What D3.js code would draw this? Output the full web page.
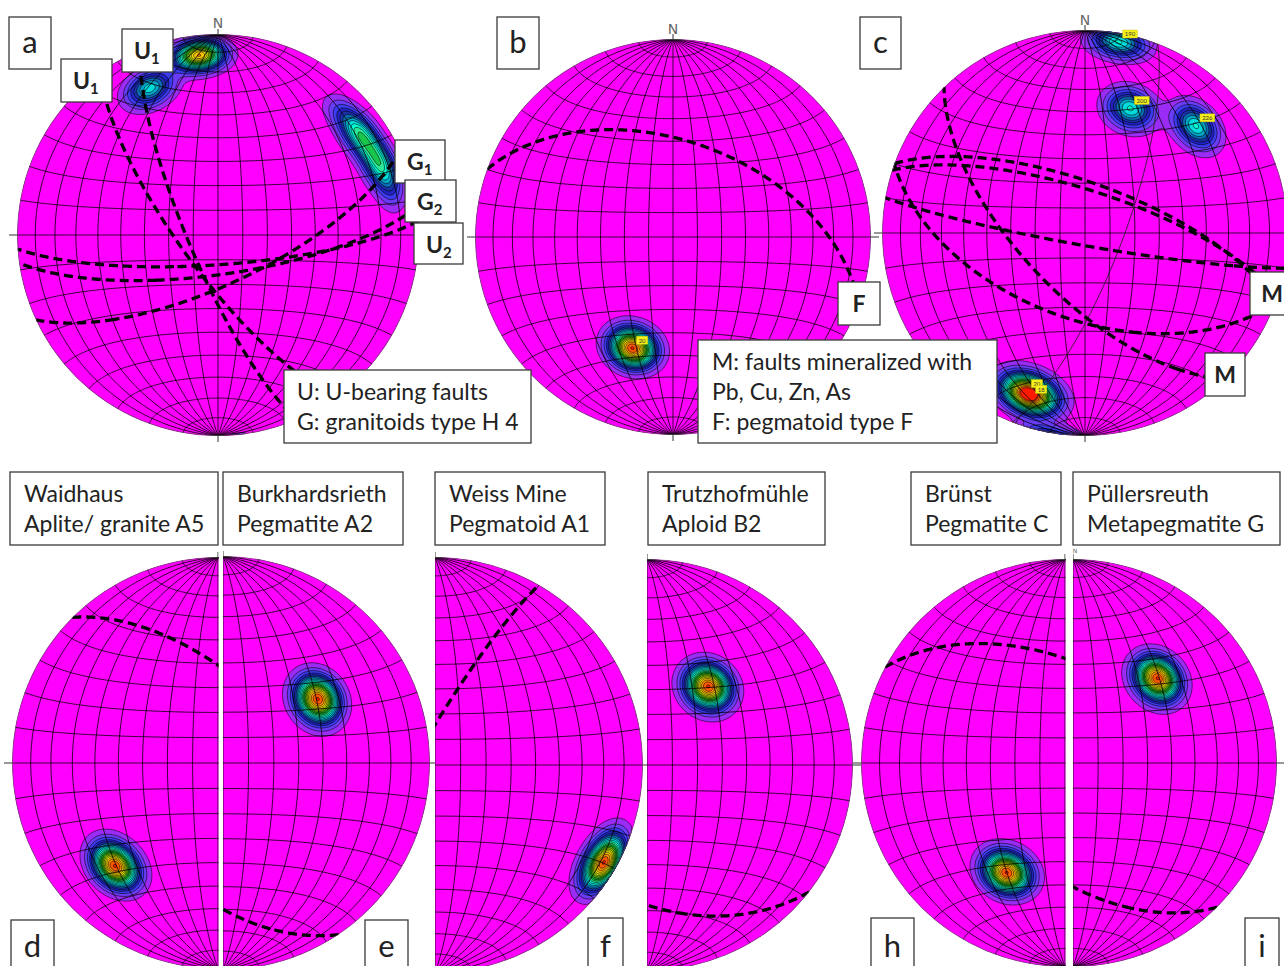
<!DOCTYPE html>
<html>
<head>
<meta charset="utf-8">
<script src="https://cdn.jsdelivr.net/npm/d3@7"></script>
<style>
  html, body { margin: 0; padding: 0; background: #fff; }
  svg { display: block; }
  text { font-family: Lato, "Open Sans", "DejaVu Sans", sans-serif; fill: #222; }
</style>
</head>
<body>
<svg id="fig" width="1284" height="966"></svg>
<script>
// ---------------------------------------------------------------
// Orientation data (lower-hemisphere, equal-area Schmidt nets)
// Density maxima are given as planes: [dip direction, dip, peak, kappa]
// Great circles are planes: [dip direction, dip]
// ---------------------------------------------------------------
const netIds = ["a", "b", "c", "d", "e", "f", "g", "h", "i"];

const densityA = [
  [174, 79, 0.9, 140], [155, 69.5, 0.42, 120],
  [234, 75.4, 0.40, 130], [247, 76.8, 0.42, 130], [240, 75.8, 0.2, 150],
  [226, 75.5, 0.14, 150], [255, 78, 0.14, 150]
];
const densityB = [[20, 50, 1.0, 110]];
const densityC = [[190, 85, 0.45, 125], [200, 55, 0.45, 110], [226, 65, 0.45, 110], [20, 72, 0.62, 105], [18, 74, 0.55, 105]];
const densityD = [[45, 60, 1.0, 110]];
const densityE = [[236, 46, 1.0, 110]];
const densityF = [[300, 83, 1.0, 110]];
const densityG = [[218, 40, 1.0, 110]];
const densityH = [[28, 51, 1.0, 110]];
const densityI = [[225, 49, 1.0, 110]];

const planesA = [[234, 75], [247, 78], [155, 70], [176, 78], [172, 74]];
const planesB = [[20, 50]];
const planesC = [[190, 85], [200, 55], [226, 65], [20, 70], [18, 73]];
const thinPlanesC = [[111, 75]];
const planesD = [[45, 60]];
const planesE = [[236, 46]];
const planesF = [[300, 82]];
const planesG = [[218, 39]];
const planesH = [[28, 51]];
const planesI = [[225, 49]];

// nets whose maxima carry a dip-direction tag (only the main maxima)
const tagNets = { b: [0], c: [0, 1, 2, 3, 4] };

const densities = [densityA, densityB, densityC, densityD, densityE, densityF, densityG, densityH, densityI];
const planes = [planesA, planesB, planesC, planesD, planesE, planesF, planesG, planesH, planesI];

// contour levels (fraction of peak density)
const levels = d3.range(0.04, 1.0, 0.05);

// ---------------------------------------------------------------
// Layout
// ---------------------------------------------------------------
const W = 1284, H = 966;
const netLayout = {
  a: { cx: 218,  cy: 235, R: 201, half: null },
  b: { cx: 673,  cy: 237, R: 198, half: null },
  c: { cx: 1085, cy: 233, R: 203, half: null },
  d: { cx: 218,  cy: 763, R: 206, half: "left" },
  e: { cx: 223,  cy: 763, R: 207, half: "right" },
  f: { cx: 435,  cy: 765, R: 208, half: "right" },
  g: { cx: 647,  cy: 765, R: 206, half: "right" },
  h: { cx: 1065, cy: 763, R: 204, half: "left" },
  i: { cx: 1073, cy: 763, R: 204, half: "right" }
};

const colorStops = [
  [0.00, "#ff00ff"], [0.04, "#9b2cf5"], [0.09, "#6a3cf6"], [0.14, "#3b3bf0"], [0.19, "#2222c2"],
  [0.24, "#1a30a6"], [0.29, "#0a6db6"], [0.34, "#00a6c8"], [0.39, "#00dcdc"], [0.44, "#00ffd2"],
  [0.49, "#2ee89a"], [0.54, "#18c64c"], [0.59, "#12ae2a"], [0.64, "#4cbb10"], [0.69, "#8ecc00"],
  [0.74, "#c8dc00"], [0.79, "#f2e600"], [0.84, "#ffc400"], [0.89, "#ff9000"], [0.94, "#ff5a00"],
  [0.99, "#ff1a00"]
];
const bandColor = d3.scaleLinear()
  .domain(colorStops.map(s => s[0]))
  .range(colorStops.map(s => s[1]))
  .clamp(true);

const deg = Math.PI / 180;

// plane -> pole (trend, plunge)
function poleOf(dipDir, dip) { return [(dipDir + 180) % 360, 90 - dip]; }
// trend/plunge -> unit vector [north, east, down]
function vecOf(trend, plunge) {
  const t = trend * deg, p = plunge * deg;
  return [Math.cos(p) * Math.cos(t), Math.cos(p) * Math.sin(t), Math.sin(p)];
}
// trend/plunge -> net longitude/latitude (net centred on the vertical, N on top)
function lonLatOf(trend, plunge) {
  const v = vecOf(trend, plunge);
  return [Math.atan2(v[1], v[2]) / deg, Math.asin(Math.max(-1, Math.min(1, v[0]))) / deg];
}

const svg = d3.select("#fig");
svg.append("rect").attr("width", W).attr("height", H).attr("fill", "#fff");
const defs = svg.append("defs");

// graticule: meridians and small circles every 10 degrees
const meridians = d3.range(-80, 81, 10).map(lon => d3.range(-90, 90.001, 1).map(lat => [lon, lat]));
const smallCircles = d3.range(-80, 81, 10).filter(l => l !== 0).map(lat => d3.range(-90, 90.001, 1).map(lon => [lon, lat]));
const equator = [d3.range(-90, 90.001, 1).map(lon => [lon, 0])];

netIds.forEach((id, k) => {
  const L = netLayout[id];
  const { cx, cy, R, half } = L;
  const proj = d3.geoAzimuthalEqualArea()
    .rotate([0, 0])
    .scale(R / Math.SQRT2)
    .translate([cx, cy])
    .clipAngle(90)
    .precision(0.1);
  const path = d3.geoPath(proj);

  defs.append("clipPath").attr("id", "disc-" + id)
    .append("circle").attr("cx", cx).attr("cy", cy).attr("r", R);
  const hx0 = half === "right" ? cx : 0;
  const hx1 = half === "left" ? cx + 0.5 : W;
  defs.append("clipPath").attr("id", "half-" + id)
    .append("rect").attr("x", hx0).attr("y", 0).attr("width", hx1 - hx0).attr("height", H);

  const outer = svg.append("g").attr("clip-path", `url(#half-${id})`);

  // axis ticks beyond the primitive
  const ticks = outer.append("g").attr("stroke", "#333").attr("stroke-width", 1);
  ticks.append("line").attr("x1", cx - R - 8).attr("x2", cx - R).attr("y1", cy).attr("y2", cy);
  ticks.append("line").attr("x1", cx + R).attr("x2", cx + R + 8).attr("y1", cy).attr("y2", cy);
  ticks.append("line").attr("x1", cx).attr("x2", cx).attr("y1", cy - R - 5).attr("y2", cy - R);
  ticks.append("line").attr("x1", cx).attr("x2", cx).attr("y1", cy + R).attr("y2", cy + R + 6);

  const g = outer.append("g").attr("clip-path", `url(#disc-${id})`);
  g.append("circle").attr("cx", cx).attr("cy", cy).attr("r", R).attr("fill", "#ff00ff");

  // ---- density field from the maxima (Fisher-type kernel, axial) ----
  const maxima = densities[k].map(([dd, dip, peak, kappa]) => {
    const [t, p] = poleOf(dd, dip);
    return { v: vecOf(t, p), peak, kappa };
  });
  const step = 2;
  const n = Math.ceil((2 * R) / step) + 3;
  const x0 = cx - R - step, y0 = cy - R - step;
  const values = new Float64Array(n * n);
  for (let j = 0; j < n; j++) {
    for (let i = 0; i < n; i++) {
      const px = x0 + i * step, py = y0 + j * step;
      const dx = px - cx, dy = py - cy;
      if (dx * dx + dy * dy > R * R) continue;
      const ll = proj.invert([px, py]);
      if (!ll) continue;
      const lon = ll[0] * deg, lat = ll[1] * deg;
      const v = [Math.sin(lat), Math.cos(lat) * Math.sin(lon), Math.cos(lat) * Math.cos(lon)];
      let s = 0;
      for (const m of maxima) {
        const dot = Math.abs(v[0] * m.v[0] + v[1] * m.v[1] + v[2] * m.v[2]);
        s += m.peak * Math.exp(m.kappa * (dot - 1));
      }
      values[j * n + i] = s;
    }
  }
  const contours = d3.contours().size([n, n]).thresholds(levels)(values);
  const cpath = d3.geoPath(d3.geoIdentity().scale(step).translate([x0 - step / 2, y0 - step / 2]));
  g.append("g").selectAll("path.band").data(contours).join("path")
    .attr("class", "band")
    .attr("d", cpath)
    .attr("fill", d => bandColor(d.value))
    .attr("stroke", "#000")
    .attr("stroke-width", 0.6)
    .attr("stroke-opacity", 0.9);

  // ---- graticule ----
  const grid = g.append("g").attr("fill", "none").attr("stroke", "#000").attr("stroke-width", 0.8);
  grid.append("path").attr("d", path({ type: "MultiLineString", coordinates: meridians }));
  grid.append("path").attr("d", path({ type: "MultiLineString", coordinates: smallCircles }));
  grid.append("path").attr("d", path({ type: "MultiLineString", coordinates: equator }));

  // ---- great circles ----
  const circleGen = d3.geoCircle().radius(90).precision(0.5);
  const gcLine = (dd, dip) => {
    const [t, p] = poleOf(dd, dip);
    const ring = circleGen.center(lonLatOf(t, p))().coordinates[0];
    return { type: "LineString", coordinates: ring };
  };
  if (id === "c") {
    g.append("g").selectAll("path").data(thinPlanesC).join("path")
      .attr("d", d => path(gcLine(d[0], d[1])))
      .attr("fill", "none").attr("stroke", "#222").attr("stroke-width", 0.9);
  }
  g.append("g").selectAll("path").data(planes[k]).join("path")
    .attr("d", d => path(gcLine(d[0], d[1])))
    .attr("fill", "none")
    .attr("stroke", "#000")
    .attr("stroke-width", 3.3)
    .attr("stroke-dasharray", "9,5");

  // primitive
  g.append("circle").attr("cx", cx).attr("cy", cy).attr("r", R - 0.3)
    .attr("fill", "none").attr("stroke", "#555").attr("stroke-width", 0.8);

  // dip-direction tags at the maxima
  if (tagNets[id]) {
    const tags = outer.append("g");
    tagNets[id].forEach(idx => {
      const [dd, dip] = densities[k][idx];
      const [t, p] = poleOf(dd, dip);
      const [sx, sy] = proj(lonLatOf(t, p));
      const label = String(dd);
      const w = 4 + label.length * 3.6;
      tags.append("rect").attr("x", sx + 4).attr("y", sy - 12).attr("width", w).attr("height", 8)
        .attr("fill", "#f4ef1a").attr("stroke", "#c8c000").attr("stroke-width", 0.4);
      tags.append("text").attr("x", sx + 4 + w / 2).attr("y", sy - 5.6)
        .attr("text-anchor", "middle").attr("font-size", 6).style("fill", "#333").text(label);
    });
  }
});

// ---- north labels ----
const northLabels = [["a", 14, 28], ["b", 14, 34], ["c", 14, 25], ["i", 6, 553]];
northLabels.forEach(([id, fs, y]) => {
  const L = netLayout[id];
  svg.append("text").attr("x", L.cx + (id === "i" ? 2 : 0)).attr("y", y)
    .attr("text-anchor", "middle").attr("font-size", fs)
    .style("fill", "#666").style("font-family", "DejaVu Sans, sans-serif").text("N");
});

// ---------------------------------------------------------------
// Label boxes
// ---------------------------------------------------------------
function box(x, y, w, h) {
  svg.append("rect").attr("x", x).attr("y", y).attr("width", w).attr("height", h)
    .attr("fill", "#fff").attr("stroke", "#3a3a3a").attr("stroke-width", 1.3);
}

// panel letters
const panelLetters = [
  ["a", 9, 17, 42, 52], ["b", 497, 17, 42, 52], ["c", 860, 17, 41, 52],
  ["d", 11, 920, 43, 50], ["e", 365, 920, 43, 50], ["f", 588, 918, 35, 52],
  ["h", 871, 918, 43, 52], ["i", 1245, 918, 34, 52]
];
panelLetters.forEach(([t, x, y, w, h]) => {
  box(x, y, w, h);
  const top = y < 100;
  svg.append("text").attr("x", x + w / 2).attr("y", top ? y + 36 : 957)
    .attr("text-anchor", "middle").attr("font-size", 31).text(t);
});

// structure labels with subscripts
const structLabels = [
  ["U", "1", 122, 29, 51, 43], ["U", "1", 61, 59, 51, 43],
  ["G", "1", 395, 140, 50, 43], ["G", "2", 405, 180, 51, 42], ["U", "2", 414, 223, 49, 41],
  ["F", "", 838, 282, 42, 43], ["M", "", 1250, 272, 44, 43], ["M", "", 1205, 353, 40, 43]
];
structLabels.forEach(([main, sub, x, y, w, h]) => {
  box(x, y, w, h);
  const t = svg.append("text").attr("y", y + 30).attr("font-size", 23).attr("font-weight", 700);
  if (sub) {
    t.attr("x", x + 12);
    t.append("tspan").text(main);
    t.append("tspan").attr("font-size", 15).attr("dy", 5).text(sub);
  } else {
    t.attr("x", x + w / 2).attr("text-anchor", "middle").text(main);
  }
});

// legends
const legendA = ["U: U-bearing faults", "G: granitoids type H 4"];
const legendBC = ["M: faults mineralized with", "Pb, Cu, Zn, As", "F: pegmatoid type F"];
box(284, 370, 247, 73);
legendA.forEach((s, i) => svg.append("text").attr("x", 297).attr("y", 400 + i * 30).attr("font-size", 23).text(s));
box(698, 340, 299, 103);
legendBC.forEach((s, i) => svg.append("text").attr("x", 712).attr("y", 370 + i * 30).attr("font-size", 23).text(s));

// locality titles
const titles = [
  ["Waidhaus", "Aplite/ granite A5", 10, 208],
  ["Burkhardsrieth", "Pegmatite A2", 223, 180],
  ["Weiss Mine", "Pegmatoid A1", 435, 170],
  ["Trutzhofmühle", "Aploid B2", 648, 177],
  ["Brünst", "Pegmatite C", 911, 150],
  ["Püllersreuth", "Metapegmatite G", 1073, 207]
];
titles.forEach(([l1, l2, x, w]) => {
  box(x, 472, w, 73);
  svg.append("text").attr("x", x + 14).attr("y", 502).attr("font-size", 23).text(l1);
  svg.append("text").attr("x", x + 14).attr("y", 532).attr("font-size", 23).text(l2);
});
</script>
</body>
</html>
